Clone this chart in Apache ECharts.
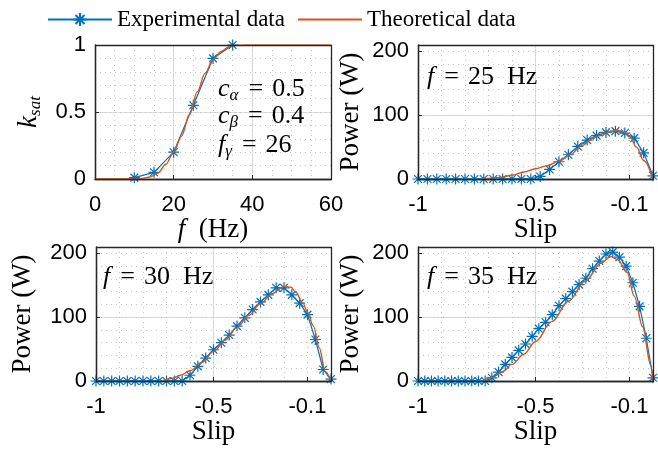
<!DOCTYPE html>
<html><head><meta charset="utf-8">
<script src="https://cdn.jsdelivr.net/npm/echarts@6/dist/echarts.min.js"></script>
<style>html,body{margin:0;padding:0;background:#fff}#c{width:658px;height:451px}</style>
</head><body><div id="c"></div>
<script>
// ---- data ----
const fTicks = [0, 20, 40, 60];
const kTicks = [0, 0.5, 1];
const slipTicks = [-1, -0.5, -0.1];
const powerTicks = [0, 100, 200];

const kFreq = [10, 15, 20, 25, 30, 35];
const kExp = [0.01, 0.05, 0.2, 0.55, 0.9, 1.0];
const kTheoF = [0, 10, 12, 14, 16, 18, 20, 22, 24, 26, 28, 30, 32, 34, 36, 38, 60];
const kTheo = [0, 0, 0.005, 0.015, 0.045, 0.11, 0.2, 0.32, 0.48, 0.65, 0.79, 0.89, 0.95, 0.985, 0.998, 1, 1];

const slip25 = [-1, -0.96, -0.92, -0.88, -0.84, -0.8, -0.76, -0.72, -0.68, -0.64, -0.6, -0.56, -0.52, -0.48, -0.44, -0.4, -0.36, -0.32, -0.28, -0.24, -0.2, -0.16, -0.12, -0.08, -0.04, 0];
const p25Exp = [0, 0, 0, 0, 0, 0, 0, 0, 0, 0, 0, 0, 0, 4, 15, 27, 38, 51, 61, 68, 73, 75, 72, 64, 41, 5];
const slipT25 = [-0.72, -0.65, -0.6, -0.55, -0.5, -0.45, -0.4, -0.35, -0.3, -0.25, -0.2, -0.15, -0.12, -0.1, -0.07, -0.04, 0];
const p25Th = [0, 2.5, 6, 11, 16, 21, 28, 39, 53, 65, 73, 76, 73, 67, 50, 29, 0];

const slip30 = [-1, -0.9667, -0.9333, -0.9, -0.8667, -0.8333, -0.8, -0.7667, -0.7333, -0.7, -0.6667, -0.6333, -0.6, -0.5667, -0.5333, -0.5, -0.4667, -0.4333, -0.4, -0.3667, -0.3333, -0.3, -0.2667, -0.2333, -0.2, -0.1667, -0.1333, -0.1, -0.0667, -0.0333, 0];
const p30Exp = [0, 0, 0, 0, 0, 0, 0, 0, 0, 0, 0, 0, 9, 23, 36, 49, 60, 72, 86, 99, 112, 124, 135, 146, 146, 135, 122, 104, 65, 18, 3];
const slipT30 = [-0.72, -0.68, -0.64, -0.6, -0.55, -0.5, -0.45, -0.4, -0.35, -0.3, -0.25, -0.2, -0.17, -0.15, -0.12, -0.1, -0.075, -0.05, -0.025, 0];
const p30Th = [0, 4, 9, 16, 29, 46, 64, 84, 103, 121, 137, 148, 147, 139, 122, 108, 86, 52, 15, 0];

const slip35 = [-1, -0.9714, -0.9429, -0.9143, -0.8857, -0.8571, -0.8286, -0.8, -0.7714, -0.7429, -0.7143, -0.6857, -0.6571, -0.6286, -0.6, -0.5714, -0.5429, -0.5143, -0.4857, -0.4571, -0.4286, -0.4, -0.3714, -0.3429, -0.3143, -0.2857, -0.2571, -0.2286, -0.2, -0.1714, -0.1429, -0.1143, -0.0857, -0.0571, -0.0286, 0];
const p35Exp = [0, 0, 0, 0, 0, 0, 0, 0, 0, 0, 0, 5, 14, 26, 37, 48, 58, 70, 82, 92, 104, 118, 129, 140, 151, 161, 176, 188, 199, 202, 194, 180, 154, 117, 67, 5];
const slipT35 = [-0.72, -0.68, -0.64, -0.6, -0.55, -0.5, -0.43, -0.36, -0.29, -0.22, -0.18, -0.15, -0.11, -0.08, -0.044, -0.01, 0];
const p35Th = [0, 6, 15, 26, 42, 62, 93, 125, 156, 185, 195, 190, 170, 133, 85, 25, 0];

// ---- style ----
const SANS = 'Liberation Sans', SERIF = 'Liberation Serif';
const FS = 22;
const AX = '#262626', GRID = '#dcdcdc', MINOR = '#c4c4c4';
const BLUE = '#0072BD', ORANGE = '#D95319';
const STAR = 'path://M0,-10L0,10M-10,0L10,0M-7.07,-7.07L7.07,7.07M-7.07,7.07L7.07,-7.07';

const chart = echarts.init(document.getElementById('c'), null, {renderer: 'canvas'});

const grids = [
  {left: 95, top: 45, width: 236, height: 134},
  {left: 418, top: 45, width: 235, height: 134},
  {left: 96, top: 247, width: 235, height: 134},
  {left: 418, top: 247, width: 235, height: 134}
];
const extents = [
  {x: [0, 60], y: [0, 1]},
  {x: [-1, 0], y: [0, 210]},
  {x: [-1, 0], y: [0, 210]},
  {x: [-1, 0], y: [0, 210]}
];

function richSet(fs, lh) {
  return {
    i: {fontFamily: SERIF, fontStyle: 'italic', fontSize: fs, color: '#000', lineHeight: lh},
    r: {fontFamily: SERIF, fontSize: fs, color: '#000', lineHeight: lh},
    e: {fontFamily: SERIF, fontSize: fs, color: '#000', lineHeight: lh, padding: [0, 9, 0, 10]},
    s: {fontFamily: SERIF, fontStyle: 'italic', fontSize: 17, color: '#000', lineHeight: 12, verticalAlign: 'bottom'}
  };
}
const nameRich = richSet(27, 30);
const noteRich = richSet(26, 30);

const splitCommon = {showMinLine: false, showMaxLine: false};
function xAxes(gi, ticks, minorStep, name, gap) {
  const [min, max] = extents[gi].x;
  return [
    {gridIndex: gi, type: 'value', min, max, position: 'bottom', name, nameLocation: 'middle', nameGap: gap,
      nameTextStyle: {rich: nameRich},
      axisLine: {show: true, onZero: false, lineStyle: {color: AX, width: 1.3}},
      axisTick: {show: true, inside: true, length: 4, customValues: ticks, lineStyle: {color: AX}},
      axisLabel: {customValues: ticks, fontFamily: SANS, fontSize: FS, color: '#000', margin: 15},
      splitLine: Object.assign({show: true, lineStyle: {color: GRID, width: 1}}, splitCommon)},
    {gridIndex: gi, type: 'value', min, max, interval: minorStep, position: 'bottom',
      axisLine: {show: false}, axisTick: {show: false}, axisLabel: {show: false},
      splitLine: Object.assign({show: true, lineStyle: {color: MINOR, width: 1, type: [1, 4]}}, splitCommon)}
  ];
}
function yAxes(gi, ticks, minorStep, name, gap) {
  const [min, max] = extents[gi].y;
  return [
    {gridIndex: gi, type: 'value', min, max, position: 'left', name, nameLocation: 'middle', nameGap: gap, nameRotate: 90,
      nameTextStyle: {rich: nameRich},
      axisLine: {show: true, onZero: false, lineStyle: {color: AX, width: 1.3}},
      axisTick: {show: true, inside: true, length: 4, customValues: ticks, lineStyle: {color: AX}},
      axisLabel: {customValues: ticks, fontFamily: SANS, fontSize: FS, color: '#000', margin: 9},
      splitLine: Object.assign({show: true, lineStyle: {color: GRID, width: 1}}, splitCommon)},
    {gridIndex: gi, type: 'value', min, max, interval: minorStep, position: 'left',
      axisLine: {show: false}, axisTick: {show: false}, axisLabel: {show: false},
      splitLine: Object.assign({show: true, lineStyle: {color: MINOR, width: 1, type: [1, 4]}}, splitCommon)}
  ];
}

const xAxis = [].concat(
  xAxes(0, fTicks, 5, '{i|f}{r|  (Hz)}', 36),
  xAxes(1, slipTicks, 0.1, '{r|Slip}', 36),
  xAxes(2, slipTicks, 0.1, '{r|Slip}', 36),
  xAxes(3, slipTicks, 0.1, '{r|Slip}', 36)
);
const yAxis = [].concat(
  yAxes(0, kTicks, 0.1, '{i|k}{s|sat}', 51),
  yAxes(1, powerTicks, 20, '{r|Power (W)}', 52),
  yAxes(2, powerTicks, 20, '{r|Power (W)}', 58),
  yAxes(3, powerTicks, 20, '{r|Power (W)}', 52)
);

function pairs(xs, ys) { return xs.map((x, i) => [x, ys[i]]); }
function expSeries(gi, xs, ys) {
  return {name: 'Experimental data', type: 'line', xAxisIndex: gi * 2, yAxisIndex: gi * 2,
    data: pairs(xs, ys), symbol: STAR, symbolSize: 11, clip: false,
    lineStyle: {color: BLUE, width: 1.2},
    itemStyle: {color: BLUE, borderColor: BLUE, borderWidth: 1.2}, z: 3};
}
function thSeries(gi, xs, ys) {
  return {name: 'Theoretical data', type: 'line', xAxisIndex: gi * 2, yAxisIndex: gi * 2,
    data: pairs(xs, ys), symbol: 'none', showSymbol: false, smooth: 0.35, smoothMonotone: 'x',
    lineStyle: {color: ORANGE, width: 1.4}, itemStyle: {color: ORANGE}, z: 4};
}

function note(x, y, text) {
  return {type: 'text', left: x, top: y, z: 50,
    style: {text, rich: noteRich, fontFamily: SERIF, fontSize: 26, fill: '#000'}};
}
// axes box (MATLAB "box on") drawn around each grid's layout rectangle
function frame(g) {
  return {type: 'rect', silent: true, z: 100,
    shape: {x: g.left + 0.5, y: g.top + 0.5, width: g.width, height: g.height},
    style: {fill: 'rgba(0,0,0,0)', stroke: AX, lineWidth: 1.3}};
}

chart.setOption({
  animation: false,
  backgroundColor: '#fff',
  grid: grids,
  legend: {top: 3, left: 42, itemWidth: 64, itemHeight: 16, itemGap: 12,
    textStyle: {fontFamily: SERIF, fontSize: 23, color: '#000'},
    data: ['Experimental data', {name: 'Theoretical data', itemStyle: {opacity: 0}}]},
  xAxis, yAxis,
  series: [
    expSeries(0, kFreq, kExp), thSeries(0, kTheoF, kTheo),
    expSeries(1, slip25, p25Exp), thSeries(1, slipT25, p25Th),
    expSeries(2, slip30, p30Exp), thSeries(2, slipT30, p30Th),
    expSeries(3, slip35, p35Exp), thSeries(3, slipT35, p35Th)
  ],
  graphic: grids.map(frame).concat([
    note(218, 76, '{i|c}{s|α}{e|=}{r|0.5}'),
    note(218, 103, '{i|c}{s|β}{e|=}{r|0.4}'),
    note(218, 132, '{i|f}{s|γ}{e|=}{r|26}'),
    note(427, 64, '{i|f}{e|=}{r|25  Hz}'),
    note(103, 264, '{i|f}{e|=}{r|30  Hz}'),
    note(427, 264, '{i|f}{e|=}{r|35  Hz}')
  ])
});
</script></body></html>
